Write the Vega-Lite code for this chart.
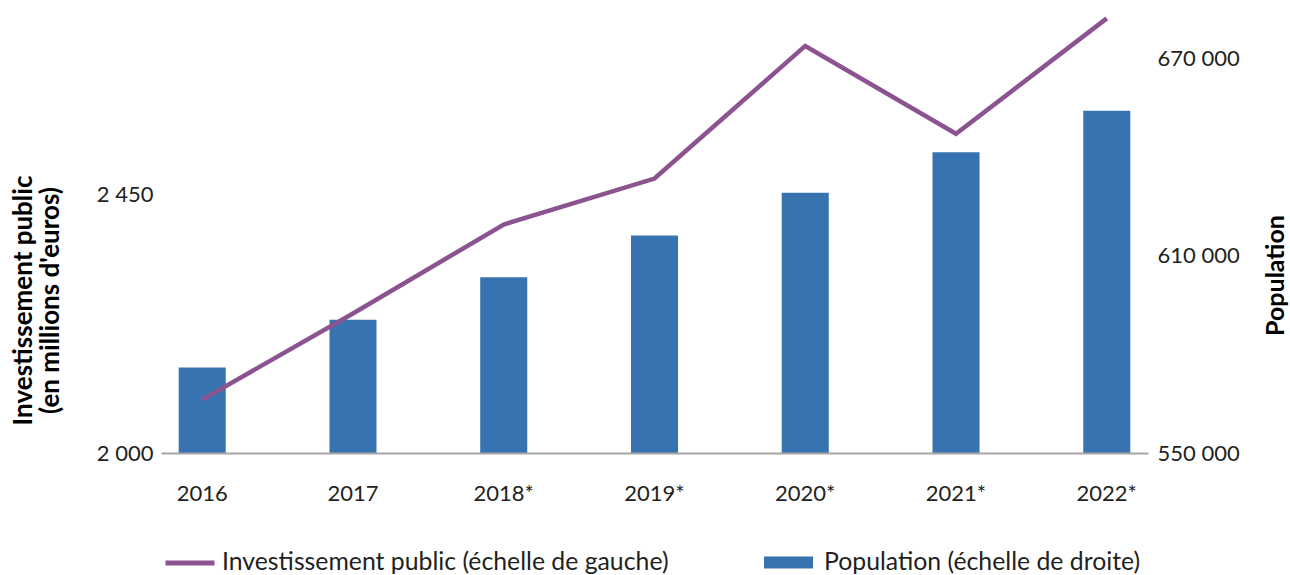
{
  "$schema": "https://vega.github.io/schema/vega-lite/v6.json",
  "autosize": "none",
  "width": 987,
  "height": 453,
  "padding": {"left": 161, "top": 0, "right": 142, "bottom": 122},
  "background": "white",
  "config": {
    "view": {"stroke": null},
    "font": "Lato",
    "axis": {"labelFont": "Lato", "titleFont": "Lato"},
    "legend": {"labelFont": "Lato"}
  },
  "data": {
    "values": [
      {"year": "2016", "invest": 2093, "population": 576000},
      {"year": "2017", "invest": 2243, "population": 590500},
      {"year": "2018*", "invest": 2398, "population": 603400},
      {"year": "2019*", "invest": 2478, "population": 616100},
      {"year": "2020*", "invest": 2709, "population": 629100},
      {"year": "2021*", "invest": 2556, "population": 641400},
      {"year": "2022*", "invest": 2757, "population": 654000}
    ]
  },
  "encoding": {
    "x": {
      "field": "year",
      "type": "ordinal",
      "sort": null,
      "scale": {"paddingInner": 0.688, "paddingOuter": 0.1175},
      "axis": {
        "title": null,
        "labelAngle": 0,
        "ticks": false,
        "domainColor": "#a6a6a6",
        "domainWidth": 2,
        "labelFontSize": 22,
        "labelColor": "#231f20",
        "labelPadding": 30,
        "zindex": 1
      }
    }
  },
  "layer": [
    {
      "mark": {"type": "bar"},
      "encoding": {
        "y": {
          "field": "population",
          "type": "quantitative",
          "scale": {"domain": [550000, 687700], "nice": false, "zero": false},
          "axis": {
            "orient": "right",
            "values": [550000, 610000, 670000],
            "labelExpr": "replace(format(datum.value, ',d'), ',', ' ')",
            "grid": false,
            "domain": false,
            "ticks": false,
            "labelPadding": 9,
            "labelFontSize": 22,
            "labelColor": "#231f20",
            "title": "Population",
            "titleFontSize": 25,
            "titleFontWeight": "bold",
            "titleColor": "#000000",
            "titleAngle": -90,
            "titleX": 127,
            "titleY": 275,
            "titleAlign": "center",
            "titleBaseline": "middle"
          }
        },
        "y2": {"datum": 550000},
        "fill": {
          "datum": "Population (échelle de droite)",
          "type": "nominal",
          "scale": {"range": ["#3773b0"]},
          "legend": {
            "title": null,
            "orient": "none",
            "legendX": 597,
            "legendY": 532,
            "symbolType": "stroke",
            "symbolSize": 2401,
            "symbolStrokeColor": "#3773b0",
            "symbolStrokeWidth": 12,
            "labelFontSize": 24.8,
            "labelColor": "#231f20",
            "labelOffset": 5,
            "labelLimit": 700
          }
        }
      }
    },
    {
      "mark": {"type": "line", "strokeWidth": 4.5},
      "encoding": {
        "y": {
          "field": "invest",
          "type": "quantitative",
          "scale": {"domain": [2000, 2789], "nice": false, "zero": false},
          "axis": {
            "orient": "left",
            "values": [2000, 2450],
            "labelExpr": "replace(format(datum.value, ',d'), ',', ' ')",
            "grid": false,
            "domain": false,
            "ticks": false,
            "labelPadding": 8,
            "labelFontSize": 22,
            "labelColor": "#231f20",
            "title": ["Investissement public", "(en millions d'euros)"],
            "titleFontSize": 26,
            "titleFontWeight": "bold",
            "titleColor": "#000000",
            "titleLineHeight": 27,
            "titleAngle": -90,
            "titleX": -138,
            "titleY": 300,
            "titleAlign": "center",
            "titleBaseline": "middle"
          }
        },
        "stroke": {
          "datum": "Investissement public (échelle de gauche)",
          "type": "nominal",
          "scale": {"range": ["#8c5391"]},
          "legend": {
            "title": null,
            "orient": "none",
            "legendX": 2,
            "legendY": 536,
            "symbolType": "stroke",
            "symbolSize": 2401,
            "symbolStrokeWidth": 5,
            "labelFontSize": 24.8,
            "labelColor": "#231f20",
            "labelOffset": 5,
            "labelLimit": 700
          }
        }
      }
    }
  ],
  "resolve": {"scale": {"y": "independent"}}
}
